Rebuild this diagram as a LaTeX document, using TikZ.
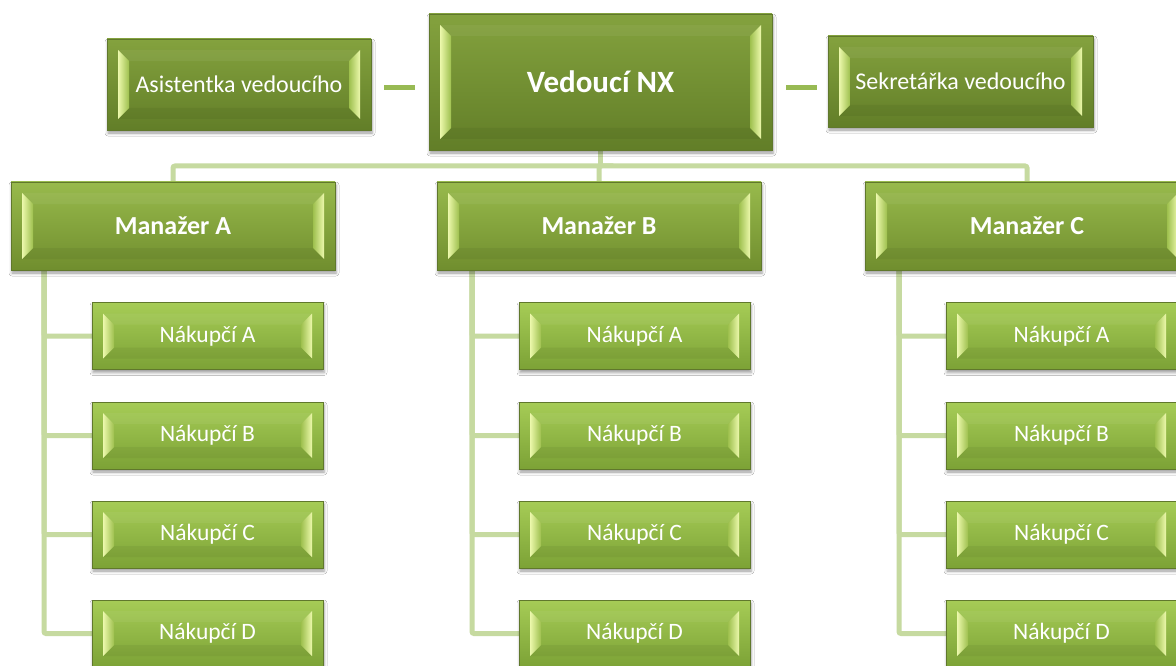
\documentclass[tikz,border=0pt]{standalone}
\usepackage{fontspec}
\setmainfont{Carlito}
\usetikzlibrary{shadows.blur,calc}
\pgfdeclarelayer{bg}
\pgfsetlayers{bg,main}
\definecolor{treeline}{RGB}{198,218,160}
\definecolor{sidegreen}{RGB}{152,186,84}
\definecolor{bevhi}{RGB}{236,248,172}
\definecolor{bevlo}{RGB}{158,192,78}
\definecolor{bossTop}{RGB}{132,162,62}
\definecolor{bossBot}{RGB}{98,126,40}
\definecolor{manTop}{RGB}{152,186,76}
\definecolor{manBot}{RGB}{112,142,46}
\definecolor{kidTop}{RGB}{166,204,86}
\definecolor{kidBot}{RGB}{124,162,54}
\definecolor{edge}{RGB}{96,120,44}
\tikzset{
  bevel/.style={path picture={
    \coordinate (pp-sw) at (path picture bounding box.south west);
    \coordinate (pp-nw) at (path picture bounding box.north west);
    \coordinate (pp-se) at (path picture bounding box.south east);
    \coordinate (pp-ne) at (path picture bounding box.north east);
    \fill[white,opacity=.05] ([shift={(11pt,-11pt)}]pp-nw) -- ([shift={(-11pt,-11pt)}]pp-ne) -- ([shift={(-22pt,-22pt)}]pp-ne) -- ([shift={(22pt,-22pt)}]pp-nw) -- cycle;
    \fill[black,opacity=.05] ([shift={(11pt,11pt)}]pp-sw) -- ([shift={(-11pt,11pt)}]pp-se) -- ([shift={(-22pt,22pt)}]pp-se) -- ([shift={(22pt,22pt)}]pp-sw) -- cycle;
    \shade[left color=bevhi, right color=bevlo] ([shift={(11pt,11pt)}]pp-sw) -- ([shift={(11pt,-11pt)}]pp-nw) -- ([shift={(22pt,-22pt)}]pp-nw) -- ([shift={(22pt,22pt)}]pp-sw) -- cycle;
    \shade[right color=bevhi, left color=bevlo] ([shift={(-11pt,11pt)}]pp-se) -- ([shift={(-11pt,-11pt)}]pp-ne) -- ([shift={(-22pt,-22pt)}]pp-ne) -- ([shift={(-22pt,22pt)}]pp-se) -- cycle;
  }},
  box/.style={rectangle, inner sep=0pt, outer sep=0pt, draw=edge, line width=0.6pt, text=white, align=center,
    blur shadow={shadow xshift=1pt, shadow yshift=-3pt, shadow blur radius=3pt, shadow opacity=40}, bevel},
  bossbox/.style={box, top color=bossTop, bottom color=bossBot, minimum width=343pt, minimum height=136pt,
    font=\bfseries\fontsize{31}{36}\selectfont},
  sidebox/.style={box, top color=bossTop, bottom color=bossBot, minimum width=264pt, minimum height=91pt,
    font=\fontsize{24}{28}\selectfont},
  manbox/.style={box, top color=manTop, bottom color=manBot, minimum width=324pt, minimum height=88pt,
    font=\bfseries\fontsize{26}{30}\selectfont},
  kidbox/.style={box, top color=kidTop, bottom color=kidBot, minimum width=231pt, minimum height=67pt,
    font=\fontsize{23.5}{28}\selectfont},
  tree/.style={draw=treeline, line width=5pt, rounded corners=2pt},
  sideline/.style={draw=sidegreen, line width=5pt}
}
\begin{document}
\begin{tikzpicture}[x=1pt,y=-1pt]
\useasboundingbox (0,0) rectangle (1176,666);
\clip (0,0) rectangle (1176,666);

\node[bossbox] (boss) at (600.5,82) {Vedoucí NX};
\node[sidebox] (asist) at (239,84.5) {Asistentka vedoucího};
\node[sidebox, minimum width=265pt] (sekr) at (960.5,81.5) {Sekretářka vedoucího};

\node[manbox] (mA) at (173,226) {Manažer A};
\node[manbox] (mB) at (599,226) {Manažer B};
\node[manbox] (mC) at (1027,226) {Manažer C};

\foreach \c/\x in {a/207.5, b/634.5, c/1061.5}{
  \node[kidbox] (\c1) at (\x,336) {Nákupčí A};
  \node[kidbox] (\c2) at (\x,435.5) {Nákupčí B};
  \node[kidbox] (\c3) at (\x,534.5) {Nákupčí C};
  \node[kidbox] (\c4) at (\x,633.5) {Nákupčí D};
}

\coordinate (bar) at (600.5,166);
\begin{pgfonlayer}{bg}
  \fill[white] (0,0) rectangle (1176,666);
  \draw[tree] (boss.south) -- (bar);
  \draw[tree] (bar) -| (mA.north);
  \draw[tree] (bar) -| (mC.north);
  \draw[tree] (bar) -| (mB.north);
  \foreach \m/\c/\dx in {mA/a/33pt, mB/b/35pt, mC/c/34pt}{
    \foreach \i in {1,2,3,4}{
      \draw[tree] ([xshift=\dx]\m.south west) |- (\c\i.west);
    }
  }
\end{pgfonlayer}

\draw[sideline, shorten <=13pt, shorten >=14pt] ([yshift=-3pt]asist.east) -- ([yshift=-3pt]asist.east -| boss.west);
\draw[sideline, shorten <=14pt, shorten >=11pt] ([yshift=-6pt]boss.east) -- ([yshift=-6pt]boss.east -| sekr.west);
\end{tikzpicture}
\end{document}
